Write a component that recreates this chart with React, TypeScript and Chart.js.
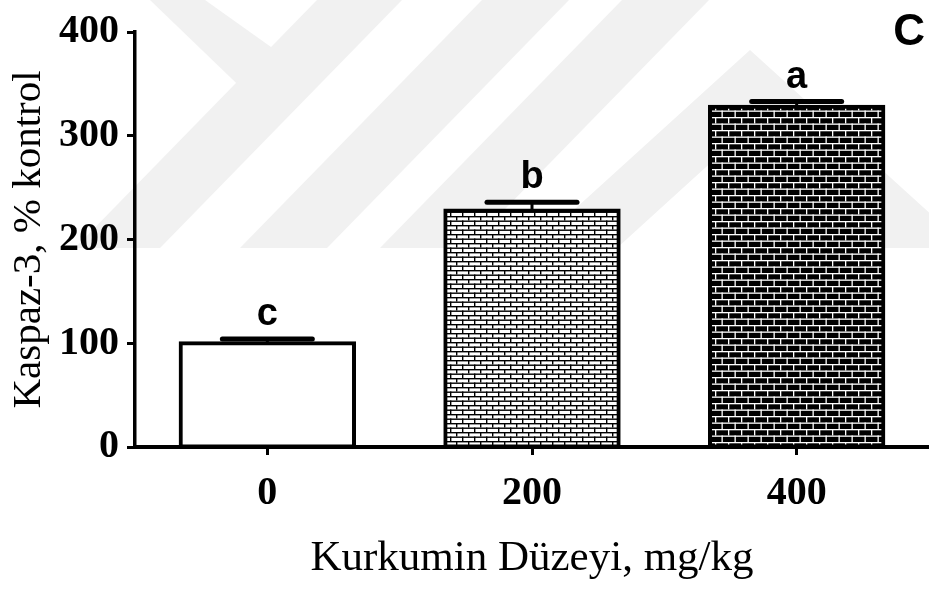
import { useEffect, useRef } from 'react';
import { Chart, registerables } from 'chart.js';

Chart.register(...registerables);

// ---- data ----
const categories = ['0', '200', '400'];
const values = [100, 228, 328];
const errors = [4, 8, 5];
const letters = ['c', 'b', 'a'];
const yTicks = [0, 100, 200, 300, 400];
const panelLabel = 'C';
const xTitle = 'Kurkumin Düzeyi, mg/kg';
const yTitle = 'Kaspaz-3, % kontrol';

// ---- decoration (faint background watermark) ----
const wmColor = '#f1f1f1';
const wmPolygons: number[][][] = [
  [[150, 0], [205, 0], [292, 62], [257, 103]],
  [[75, 248], [160, 248], [402, 0], [317, 0]],
  [[240, 248], [327, 248], [569, 0], [482, 0]],
  [[380, 248], [467, 248], [709, 0], [622, 0]],
  [[532, 248], [750, 50], [968, 248], [883, 248], [750, 127], [617, 248]],
];
const wmBottom = 248;

const serif = "'Liberation Serif', 'Times New Roman', serif";
const sans = "'Liberation Sans', Arial, sans-serif";

function makeBrick(bg: string, fg: string, rowH: number, brickW: number, line: number) {
  const c = document.createElement('canvas');
  c.width = brickW * 2;
  c.height = rowH * 2;
  const g = c.getContext('2d')!;
  g.fillStyle = bg;
  g.fillRect(0, 0, c.width, c.height);
  g.fillStyle = fg;
  g.fillRect(0, 0, c.width, line);
  g.fillRect(0, rowH, c.width, line);
  g.fillRect(0, 0, line, rowH);
  g.fillRect(brickW, 0, line, rowH);
  g.fillRect(brickW / 2, rowH, line, rowH);
  g.fillRect(brickW * 1.5, rowH, line, rowH);
  return g.createPattern(c, 'repeat')!;
}

export default function App() {
  const ref = useRef<HTMLCanvasElement>(null);

  useEffect(() => {
    const canvas = ref.current!;
    const ctx = canvas.getContext('2d')!;
    const lightPat = makeBrick('#ffffff', '#000000', 4.5, 12, 1.4);
    const darkPat = makeBrick('#000000', '#ffffff', 6.5, 13, 1.3);

    const decor = {
      id: 'decor',
      beforeDraw(chart: any) {
        const c = chart.ctx;
        c.save();
        c.fillStyle = '#ffffff';
        c.fillRect(0, 0, chart.width, chart.height);
        c.beginPath();
        c.rect(0, 0, chart.width, wmBottom);
        c.clip();
        c.fillStyle = wmColor;
        for (const poly of wmPolygons) {
          c.beginPath();
          poly.forEach(([x, y], i) => (i ? c.lineTo(x, y) : c.moveTo(x, y)));
          c.closePath();
          c.fill();
        }
        c.restore();
      },
      afterDatasetsDraw(chart: any) {
        const c = chart.ctx;
        const meta = chart.getDatasetMeta(0);
        const y = chart.scales.y;
        c.save();
        c.strokeStyle = '#000';
        meta.data.forEach((bar: any, i: number) => {
          const top = y.getPixelForValue(values[i]);
          const eTop = y.getPixelForValue(values[i] + errors[i]);
          const half = 45;
          c.lineWidth = 3;
          c.lineCap = 'butt';
          c.beginPath();
          c.moveTo(bar.x, top);
          c.lineTo(bar.x, eTop);
          c.stroke();
          c.lineWidth = 5;
          c.lineCap = 'round';
          c.beginPath();
          c.moveTo(bar.x - half, eTop);
          c.lineTo(bar.x + half, eTop);
          c.stroke();
        });
        c.restore();
      },
      afterDraw(chart: any) {
        const c = chart.ctx;
        const meta = chart.getDatasetMeta(0);
        const y = chart.scales.y;
        c.save();
        c.fillStyle = '#000';
        c.textAlign = 'center';
        c.textBaseline = 'alphabetic';
        c.font = `bold 38px ${sans}`;
        meta.data.forEach((bar: any, i: number) => {
          const eTop = y.getPixelForValue(values[i] + errors[i]);
          c.fillText(letters[i], bar.x, eTop - 14);
        });
        c.font = `bold 44px ${sans}`;
        c.textAlign = 'right';
        c.fillText(panelLabel, chart.chartArea.right - 4, 45);
        c.restore();
      },
    };

    const chart = new Chart(ctx, {
      type: 'bar',
      data: {
        labels: categories,
        datasets: [
          {
            data: values,
            backgroundColor: ['#ffffff', lightPat, darkPat] as any,
            borderColor: '#000000',
            borderWidth: 4,
            borderSkipped: false,
            inflateAmount: 2,
            barPercentage: 0.655,
            categoryPercentage: 1,
          },
        ],
      },
      options: {
        responsive: false,
        animation: false,
        layout: { padding: { top: 27, left: 0, right: 0, bottom: 0 } },
        plugins: {
          legend: { display: false },
          tooltip: { enabled: false },
          title: { display: false },
        },
        scales: {
          x: {
            offset: true,
            grid: {
              display: true,
              drawOnChartArea: false,
              drawTicks: true,
              tickLength: 8,
              tickWidth: 3,
              tickColor: '#000',
              offset: false,
            },
            border: { display: true, color: '#000', width: 4 },
            ticks: {
              color: '#000',
              font: { family: serif, size: 40, weight: 'bold' },
              padding: 15,
              maxRotation: 0,
              autoSkip: false,
            },
            title: {
              display: true,
              text: xTitle,
              color: '#000',
              font: { family: serif, size: 43, weight: 'normal' },
              padding: { top: 0, bottom: 5 },
            },
            afterFit: (s: any) => {
              s.height = 143;
            },
          },
          y: {
            min: 0,
            max: 400,
            afterBuildTicks: (s: any) => {
              s.ticks = yTicks.map((v) => ({ value: v }));
            },
            grid: {
              display: true,
              drawOnChartArea: false,
              drawTicks: true,
              tickLength: 8,
              tickWidth: 3,
              tickColor: '#000',
            },
            border: { display: true, color: '#000', width: 3.5 },
            ticks: {
              color: '#000',
              font: { family: serif, size: 40, weight: 'bold' },
              padding: 8,
            },
            title: {
              display: true,
              text: yTitle,
              color: '#000',
              font: { family: serif, size: 41, weight: 'normal' },
              padding: { top: 5, bottom: 0 },
            },
            afterFit: (s: any) => {
              s.width = 135;
            },
          },
        },
      },
      plugins: [decor],
    });

    return () => chart.destroy();
  }, []);

  return (
    <div style={{ position: 'absolute', left: 0, top: 0, width: 929, height: 590 }}>
      <canvas ref={ref} width={929} height={590} />
    </div>
  );
}
